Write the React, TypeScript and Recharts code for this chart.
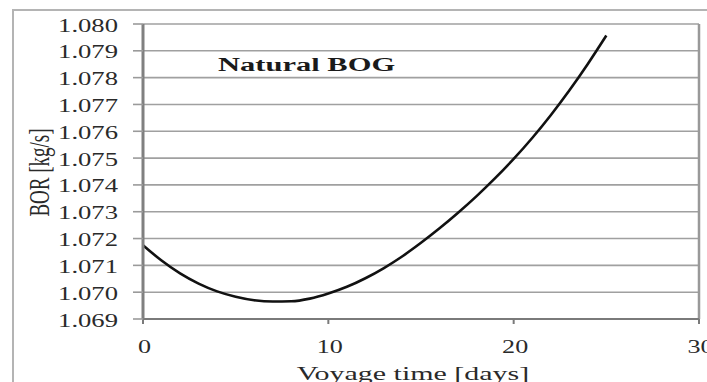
import React from "react";
import {
  LineChart,
  Line,
  XAxis,
  YAxis,
  CartesianGrid,
  ReferenceLine,
  ReferenceDot,
} from "recharts";

const days = [0, 1, 2, 3, 4, 5, 6, 7, 8, 9, 10, 11, 12, 13, 14, 15, 16, 17, 18, 19, 20, 21, 22, 23, 24, 25];
const bor = [
  1.07175, 1.07118, 1.0707, 1.07032, 1.07003, 1.06983, 1.0697, 1.06965, 1.06966, 1.06976,
  1.06995, 1.0702, 1.07052, 1.0709, 1.07134, 1.07184, 1.07238, 1.07296, 1.07358, 1.07425,
  1.07497, 1.07575, 1.0766, 1.07752, 1.07851, 1.07957,
];
const yTicks = [1.069, 1.07, 1.071, 1.072, 1.073, 1.074, 1.075, 1.076, 1.077, 1.078, 1.079, 1.08];
const xTicks = [0, 10, 20, 30];
const xTitle = "Voyage time [days]";
const yTitle = "BOR [kg/s]";
const noteText = "Natural BOG";
const noteX = 4.05;
const noteY = 1.07823;

const data = days.map((d, i) => ({ day: d, bor: bor[i] }));

const FONT = "'Liberation Serif', 'Times New Roman', serif";
const TXT = "#2a2a2a";

const YTick = (props: any) => {
  const { x, y, payload } = props;
  return (
    <text
      transform={`translate(${x},${y + 7.5}) scale(1.48,1)`}
      textAnchor="end"
      fontFamily={FONT}
      fontSize={18}
      fill={TXT}
    >
      {Number(payload.value).toFixed(3)}
    </text>
  );
};

const XTick = (props: any) => {
  const { x, y, payload } = props;
  return (
    <text
      transform={`translate(${x + 1.5},${y + 27}) scale(1.45,1)`}
      textAnchor="middle"
      fontFamily={FONT}
      fontSize={18}
      fill={TXT}
    >
      {payload.value}
    </text>
  );
};

const XLabel = (props: any) => {
  const vb = props.viewBox;
  return (
    <text
      transform={`translate(${vb.x + vb.width / 2 - 8},${vb.y + 61}) scale(1.62,1)`}
      textAnchor="middle"
      fontFamily={FONT}
      fontSize={18.5}
      fill={TXT}
    >
      {xTitle}
    </text>
  );
};

const YLabel = (props: any) => {
  const vb = props.viewBox;
  return (
    <text
      transform={`translate(38.5,${vb.y + vb.height / 2 + 1}) scale(1.5,1) rotate(-90)`}
      textAnchor="middle"
      dominantBaseline="central"
      fontFamily={FONT}
      fontSize={19}
      fill={TXT}
    >
      {yTitle}
    </text>
  );
};

const NoteLabel = (props: any) => {
  const vb = props.viewBox;
  return (
    <text
      transform={`translate(${vb.x},${vb.y}) scale(1.65,1)`}
      textAnchor="start"
      fontFamily={FONT}
      fontSize={18.5}
      fontWeight="bold"
      fill="#1a1a1a"
    >
      {noteText}
    </text>
  );
};

export default function App() {
  return (
    <div
      style={{
        position: "fixed",
        left: 0,
        top: 0,
        width: 707,
        height: 382,
        background: "#fff",
        overflow: "hidden",
      }}
    >
      <div
        style={{
          position: "absolute",
          left: 12,
          top: 9,
          width: 800,
          height: 500,
          border: "2px solid #b4b4b4",
        }}
      />
      <div style={{ position: "absolute", left: 0, top: 0 }}>
        <LineChart
          width={707}
          height={382}
          data={data}
          margin={{ top: 24, right: 8, bottom: 0, left: 0 }}
        >
          <CartesianGrid vertical={false} stroke="#a0a0a0" strokeWidth={1.6} />
          <XAxis
            dataKey="day"
            type="number"
            domain={[0, 30]}
            ticks={xTicks}
            height={63}
            tickSize={5}
            tickMargin={2}
            axisLine={{ stroke: "#7a7a7a", strokeWidth: 2 }}
            tickLine={{ stroke: "#7a7a7a", strokeWidth: 2 }}
            tick={XTick}
            label={{ content: XLabel }}
            interval={0}
          />
          <YAxis
            type="number"
            domain={[1.069, 1.08]}
            ticks={yTicks}
            width={143}
            tickSize={10}
            tickMargin={15}
            axisLine={{ stroke: "#808080", strokeWidth: 3 }}
            tickLine={{ stroke: "#9a9a9a", strokeWidth: 1.6 }}
            tick={YTick}
            label={{ content: YLabel }}
            interval={0}
            allowDataOverflow
          />
          <ReferenceLine x={30} stroke="#999" strokeWidth={2.5} />
          <ReferenceDot
            x={noteX}
            y={noteY}
            r={0}
            fill="none"
            stroke="none"
            label={{ content: NoteLabel }}
          />
          <Line
            type="monotone"
            dataKey="bor"
            stroke="#111"
            strokeWidth={2.6}
            dot={false}
            isAnimationActive={false}
          />
        </LineChart>
      </div>
    </div>
  );
}
